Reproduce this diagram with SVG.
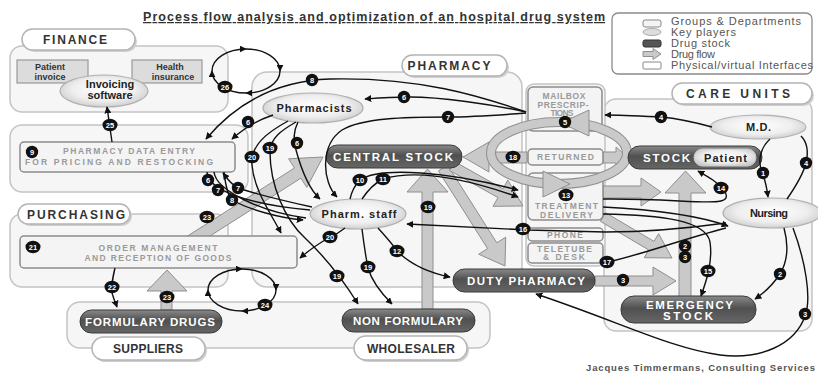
<svg xmlns="http://www.w3.org/2000/svg" width="818" height="374" viewBox="0 0 818 374">
<defs>
<style>
.grp{fill:#f6f6f6;stroke:#c4c4c4;stroke-width:1.5}
.pill{fill:#fff;stroke:#b4b4b4;stroke-width:1.5}
.psh{fill:#cfcfcf}
.pt{font-family:"Liberation Sans",Arial,sans-serif;font-weight:bold;font-size:12px;fill:#333;text-anchor:middle}
.stk{fill:url(#gs);stroke:#3a3a3a;stroke-width:1}
.stt{font-family:"Liberation Sans",Arial,sans-serif;font-weight:bold;font-size:11.5px;fill:#fff;text-anchor:middle}
.ifc{fill:#f4f4f4;stroke:#8c8c8c;stroke-width:1.5}
.it{font-family:"Liberation Sans",Arial,sans-serif;font-weight:bold;font-size:8.5px;fill:#9a9a9a;text-anchor:middle}
.kp{fill:url(#gk);stroke:#b0b0b0;stroke-width:1.2}
.kt{font-family:"Liberation Sans",Arial,sans-serif;font-weight:bold;font-size:11px;fill:#222;text-anchor:middle}
.fbox{fill:#dcdcdc;stroke:#999;stroke-width:1.2}
.ft{font-family:"Liberation Sans",Arial,sans-serif;font-weight:bold;font-size:9px;fill:#333;text-anchor:middle}
.fl{fill:#c9c9c9;stroke:#8f8f8f;stroke-width:1}
.ln{fill:none;stroke:#111;stroke-width:1.4}
.a{marker-end:url(#ah)}
.lp{marker-mid:url(#ah);marker-end:url(#ah)}
.bd{fill:#111}
.bt{font-family:"Liberation Sans",Arial,sans-serif;font-weight:bold;font-size:7.5px;fill:#fff;text-anchor:middle}
.lg{font-family:"Liberation Sans",Arial,sans-serif;font-size:11px;fill:#555}
</style>
<linearGradient id="gs" x1="0" y1="0" x2="0" y2="1">
<stop offset="0" stop-color="#8a8a8a"/><stop offset="0.45" stop-color="#505050"/><stop offset="1" stop-color="#666"/>
</linearGradient>
<radialGradient id="gk" cx="0.5" cy="0.45" r="0.6">
<stop offset="0" stop-color="#ffffff"/><stop offset="0.6" stop-color="#eeeeee"/><stop offset="1" stop-color="#c8c8c8"/>
</radialGradient>
<marker id="ah" viewBox="0 0 10 10" refX="9" refY="5" markerWidth="7" markerHeight="7" markerUnits="userSpaceOnUse" orient="auto">
<path d="M0,0 L10,5 L0,10 z" fill="#111"/>
</marker>
</defs>

<rect x="0" y="0" width="818" height="374" fill="#fff"/>

<text x="143" y="21" font-family="Liberation Sans, Arial, sans-serif" font-weight="bold" font-size="12.5" fill="#333" text-decoration="underline" textLength="462" lengthAdjust="spacing">Process flow analysis and optimization of an hospital drug system</text>

<g id="legend">
<rect x="612" y="13" width="200" height="61" rx="6" fill="#fff" stroke="#8a8a8a" stroke-width="1.3"/>
<rect x="643" y="20" width="18" height="7" rx="2" fill="#f4f4f4" stroke="#888"/>
<text class="lg" x="671" y="25" textLength="130" lengthAdjust="spacing">Groups &amp; Departments</text>
<ellipse cx="652" cy="32" rx="9" ry="3.5" fill="#ddd" stroke="#aaa"/>
<text class="lg" x="671" y="36" textLength="65" lengthAdjust="spacing">Key players</text>
<rect x="643" y="40" width="18" height="7" rx="2" fill="#555" stroke="#333"/>
<text class="lg" x="671" y="47" textLength="59" lengthAdjust="spacing">Drug stock</text>
<polygon class="fl" points="643,51.5 653,51.5 653,48.5 661,54 653,59.5 653,56.5 643,56.5"/>
<text class="lg" x="671" y="58" textLength="44" lengthAdjust="spacing">Drug flow</text>
<rect x="643" y="62" width="18" height="7" rx="1" fill="#fff" stroke="#888"/>
<text class="lg" x="671" y="69" textLength="142" lengthAdjust="spacing">Physical/virtual Interfaces</text>
</g>

<!-- group boxes -->
<g id="finance">
<rect class="grp" x="10" y="46" width="218" height="66" rx="12"/>
<rect class="psh" x="24" y="31" width="113" height="21" rx="10.5"/>
<rect class="pill" x="22" y="29" width="113" height="21" rx="10.5"/>
<text class="pt" x="75" y="44" textLength="64" lengthAdjust="spacing">FINANCE</text>
</g>
<g id="pharmacy">
<rect class="grp" x="252" y="72" width="270" height="215" rx="15"/>
<rect class="psh" x="404" y="57" width="105" height="21" rx="10.5"/>
<rect class="pill" x="402" y="55" width="105" height="21" rx="10.5"/>
<text class="pt" x="449" y="70" textLength="83" lengthAdjust="spacing">PHARMACY</text>
</g>
<g id="data-entry-group">
<rect class="grp" x="10" y="125" width="238" height="67" rx="12"/>
</g>
<g id="purchasing">
<rect class="grp" x="10" y="214" width="218" height="73" rx="12"/>
<rect class="psh" x="20" y="206" width="112" height="20" rx="10"/>
<rect class="pill" x="18" y="204" width="112" height="20" rx="10"/>
<text class="pt" x="76" y="218.5" textLength="98" lengthAdjust="spacing">PURCHASING</text>
</g>
<g id="suppliers-wholesaler">
<rect class="grp" x="67" y="302" width="423" height="46" rx="13"/>
</g>
<g id="care-units">
<rect class="grp" x="604" y="99" width="208" height="232" rx="12"/>
<rect class="psh" x="674" y="85" width="140" height="21" rx="10.5"/>
<rect class="pill" x="672" y="83" width="140" height="21" rx="10.5"/>
<text class="pt" x="738" y="98" textLength="104" lengthAdjust="spacing">CARE UNITS</text>
</g>
<g id="interfaces-column">
<rect class="grp" x="526" y="84" width="79" height="182" rx="8"/>
</g>

<!-- drug flows -->
<g id="drug-flows">
<polygon class="fl" points="186.2,251.1 300.9,178.2 306.8,187.4 323,157 288.6,158.8 294.5,168 179.8,240.9"/>
<polygon class="fl" points="161,310 161,291 147,291 167,270 187,291 172,291 172,310"/>
<polygon class="fl" points="422,309 422,192 407,192 427.5,169 448,192 433,192 433,309"/>
<polygon class="fl" points="438.4,170.9 487.6,248.6 478.7,254.2 505,266 505.7,237.2 496.8,242.8 447.6,165.1"/>
<polygon class="fl" points="449.5,170.4 498,197.6 493,206.3 523,206 507.8,180.1 502.9,188.8 454.5,161.6"/>
<polygon class="fl" points="527,152 489,152 489,142 463,157 489,172 489,163 527,163"/>
<polygon class="fl" points="603,152 616,152 616,147 628,157.5 616,168 616,163 603,163"/>
<polygon class="fl" points="603,186 641,186 641,178 661,192 641,206 641,198 603,198"/>
<polygon class="fl" points="600.4,221.3 648.8,250 644.2,257.7 672,258 658.6,233.7 654,241.4 605.6,212.7"/>
<polygon class="fl" points="595,276 653,276 653,267 676,281 653,295 653,286 595,286"/>
<polygon class="fl" points="679,297 679,193 665,193 685.5,171 706,193 691,193 691,297"/>
</g>

<!-- nodes -->
<g id="patient-invoice">
<rect class="fbox" x="17" y="60" width="71" height="23"/>
<text class="ft" x="50" y="70">Patient</text>
<text class="ft" x="50" y="80">invoice</text>
</g>
<g id="health-insurance">
<rect class="fbox" x="132" y="60" width="70" height="23"/>
<text class="ft" x="170" y="70">Health</text>
<text class="ft" x="173" y="80">insurance</text>
</g>
<g id="invoicing-software">
<ellipse class="kp" cx="104" cy="91" rx="44" ry="16"/>
<text class="kt" x="110" y="88" font-size="10">Invoicing</text>
<text class="kt" x="110" y="99" font-size="10">software</text>
</g>
<g id="pharmacy-data-entry">
<rect class="ifc" x="20" y="142" width="215" height="30" rx="4"/>
<text class="it" x="129" y="154" textLength="132" lengthAdjust="spacing">PHARMACY DATA ENTRY</text>
<text class="it" x="119" y="165" textLength="188" lengthAdjust="spacing">FOR PRICING AND RESTOCKING</text>
</g>
<g id="order-management">
<rect class="ifc" x="20" y="236" width="277" height="32" rx="4"/>
<text class="it" x="158" y="251" textLength="119" lengthAdjust="spacing">ORDER MANAGEMENT</text>
<text class="it" x="158" y="261" textLength="147" lengthAdjust="spacing">AND RECEPTION OF GOODS</text>
</g>
<g id="formulary-drugs">
<rect class="stk" x="80" y="310" width="142" height="23" rx="11.5"/>
<text class="stt" x="150" y="325.5" textLength="130" lengthAdjust="spacing">FORMULARY DRUGS</text>
</g>
<g id="suppliers">
<rect class="psh" x="94" y="339" width="113" height="23" rx="11.5"/>
<rect class="pill" x="92" y="337" width="113" height="23" rx="11.5"/>
<text class="pt" x="148" y="352.5" textLength="70" lengthAdjust="spacing">SUPPLIERS</text>
</g>
<g id="non-formulary">
<rect class="stk" x="342" y="309" width="133" height="23" rx="11.5"/>
<text class="stt" x="408" y="324.5" textLength="110" lengthAdjust="spacing">NON FORMULARY</text>
</g>
<g id="wholesaler">
<rect class="psh" x="356" y="338" width="113" height="24" rx="12"/>
<rect class="pill" x="354" y="336" width="113" height="24" rx="12"/>
<text class="pt" x="411" y="352.5" textLength="88" lengthAdjust="spacing">WHOLESALER</text>
</g>
<g id="pharmacists">
<ellipse class="kp" cx="313" cy="108" rx="50" ry="15"/>
<text class="kt" x="314" y="112" textLength="75" lengthAdjust="spacing">Pharmacists</text>
</g>
<g id="pharm-staff">
<ellipse class="kp" cx="358" cy="214" rx="48" ry="15"/>
<text class="kt" x="359" y="218" textLength="75" lengthAdjust="spacing">Pharm. staff</text>
</g>
<g id="central-stock">
<rect class="stk" x="326" y="145" width="136" height="23" rx="11.5"/>
<text class="stt" x="393" y="161" font-size="12" textLength="120" lengthAdjust="spacing">CENTRAL STOCK</text>
</g>
<g id="duty-pharmacy">
<rect class="stk" x="453" y="269" width="142" height="23" rx="11.5"/>
<text class="stt" x="526" y="285" textLength="118" lengthAdjust="spacing">DUTY PHARMACY</text>
</g>
<g id="mailbox">
<rect class="ifc" x="528" y="87" width="74" height="44" rx="5"/>
<text class="it" x="564" y="99" textLength="43" lengthAdjust="spacing">MAILBOX</text>
<text class="it" x="563" y="107.5" textLength="51" lengthAdjust="spacing">PRESCRIP-</text>
<text class="it" x="562" y="116" textLength="23" lengthAdjust="spacing">TIONS</text>
</g>
<g id="returned">
<rect class="ifc" x="528" y="149" width="75" height="16" rx="4"/>
<text class="it" x="565.5" y="160" textLength="57" lengthAdjust="spacing">RETURNED</text>
</g>
<g id="treatment-delivery">
<rect class="ifc" x="528" y="173" width="75" height="47" rx="5"/>
<text class="it" x="566.5" y="209" textLength="63" lengthAdjust="spacing">TREATMENT</text>
<text class="it" x="566.5" y="217.5" textLength="53" lengthAdjust="spacing">DELIVERY</text>
</g>
<g id="phone">
<rect class="ifc" x="528" y="228" width="75" height="13" rx="4"/>
<text class="it" x="565" y="238" textLength="36" lengthAdjust="spacing">PHONE</text>
</g>
<g id="teletube-desk">
<rect class="ifc" x="528" y="243" width="75" height="20" rx="4"/>
<text class="it" x="564.5" y="251.5" textLength="55" lengthAdjust="spacing">TELETUBE</text>
<text class="it" x="564" y="260" textLength="42" lengthAdjust="spacing">&amp; DESK</text>
</g>

<g id="return-cycle">
<ellipse cx="559" cy="153" rx="68" ry="31" fill="none" stroke="#8f8f8f" stroke-width="10"/>
<ellipse cx="559" cy="153" rx="68" ry="31" fill="none" stroke="#cacaca" stroke-width="8"/>
<polygon class="fl" points="561,123 589,110 589,136"/>
<polygon class="fl" points="570,184 543,171 543,197"/>
</g>

<g id="md">
<ellipse class="kp" cx="758" cy="127" rx="48" ry="12"/>
<text class="kt" x="758.5" y="131" textLength="25" lengthAdjust="spacing">M.D.</text>
</g>
<g id="stock-patient">
<rect class="stk" x="628" y="146" width="134" height="23" rx="11.5"/>
<text class="stt" x="666.5" y="162" textLength="47" lengthAdjust="spacing">STOCK</text>
<rect x="694" y="149" width="62" height="17" rx="8.5" fill="url(#gk)" stroke="#ccc"/>
<text class="kt" x="725.5" y="161.5" font-size="11.5" textLength="43" lengthAdjust="spacing">Patient</text>
</g>
<g id="nursing">
<ellipse class="kp" cx="772" cy="213" rx="49" ry="15"/>
<text class="kt" x="769" y="217" textLength="38" lengthAdjust="spacing">Nursing</text>
</g>
<g id="emergency-stock">
<rect class="stk" x="621" y="296" width="135" height="27" rx="13"/>
<text class="stt" x="689.5" y="308.5" textLength="87" lengthAdjust="spacing">EMERGENCY</text>
<text class="stt" x="688" y="320" textLength="50" lengthAdjust="spacing">STOCK</text>
</g>

<!-- connectors -->
<g id="connectors">
<path class="ln a" d="M112,142 L107,107"/>
<path class="ln lp" d="M212,71 A34,22 0 0 1 246,49 A34,22 0 0 1 280,71 A34,22 0 0 1 246,93 A34,22 0 0 1 212,71"/>
<path class="ln lp" d="M208,290 A34,21 0 0 1 242,269 A34,21 0 0 1 276,290 A34,21 0 0 1 242,311 A34,21 0 0 1 208,290"/>
<path class="ln a" d="M526,112 C480,96 420,77 330,79 C270,81 232,108 206,139"/>
<path class="ln a" d="M526,112 C490,104 440,97 410,97 C390,97 378,98 365,99"/>
<path class="ln a" d="M526,113 C500,115 470,117 448,117 C405,117 362,118 342,130 C320,145 322,182 337,197"/>
<path class="ln a" d="M298,122 C293,132 293,140 296,150 C302,172 310,190 320,199"/>
<path class="ln a" d="M273,115 C258,120 242,130 232,139"/>
<path class="ln a" d="M288,121 C268,132 250,145 252,165 C254,190 270,212 281,233"/>
<path class="ln a" d="M296,122 C282,130 270,138 270,152 C270,185 285,220 305,238 C322,254 340,275 358,304"/>
<path class="ln a" d="M362,229 C364,245 366,258 368,268 C372,282 382,294 392,304"/>
<path class="ln a" d="M345,228 C340,232 335,235 330,237 C318,244 308,251 300,258"/>
<path class="ln a" d="M378,228 C387,238 394,246 397,251 C412,266 430,273 450,277"/>
<path class="ln a" d="M350,199 C352,190 356,184 360,180 C380,166 450,172 518,190"/>
<path class="ln a" d="M362,199 C368,190 375,183 383,179 C420,168 470,180 518,197"/>
<path class="ln" d="M207,172 C207,190 250,205 310,210"/>
<path class="ln" d="M214,172 C216,190 260,212 306,218"/>
<path class="ln a" d="M312,207 C280,200 250,192 238,188 C232,185 228,180 223,173"/>
<path class="ln a" d="M224,172 C226,190 230,198 232,200 C250,210 280,218 303,220"/>
<path class="ln a" d="M726,223 C690,228 645,232 605,232 L528,230 C480,228 440,226 407,224"/>
<path class="ln a" d="M603,207 C660,210 700,216 728,226"/>
<path class="ln a" d="M603,199 C690,198 735,210 725,192 C718,182 707,176 698,171"/>
<path class="ln a" d="M603,214 C660,215 706,220 710,242 C713,262 706,282 701,296"/>
<path class="ln" d="M726,228 C680,240 640,255 608,262"/>
<path class="ln a" d="M784,228 C790,250 786,264 780,274 C772,286 764,293 755,299"/>
<path class="ln a" d="M793,228 C805,260 812,298 805,316 C795,345 760,360 720,355 C670,348 620,322 536,294"/>
<path class="ln a" d="M770,139 C758,150 758,165 763,175 C766,183 767,189 768,197"/>
<path class="ln" d="M787,199 C796,186 803,175 806,163 C809,150 806,141 801,136"/>
<path class="ln a" d="M712,127 C690,121 672,118 661,117 C640,116 620,115 605,115"/>
<path class="ln a" d="M115,268 C112,280 111,292 113,296 C114,300 116,304 117,307"/>
</g>

<!-- badges -->
<g id="badges">
<g><circle class="bd" cx="312" cy="80" r="6.2"/><text class="bt" x="312" y="82.7">8</text></g>
<g><circle class="bd" cx="404" cy="97" r="6.2"/><text class="bt" x="404" y="99.7">6</text></g>
<g><circle class="bd" cx="448" cy="117" r="6.2"/><text class="bt" x="448" y="119.7">7</text></g>
<g><circle class="bd" cx="661" cy="117" r="6.2"/><text class="bt" x="661" y="119.7">4</text></g>
<g><circle class="bd" cx="565" cy="122" r="6.2"/><text class="bt" x="565" y="124.7">5</text></g>
<g><circle class="bd" cx="248" cy="122" r="6.2"/><text class="bt" x="248" y="124.7">6</text></g>
<g><ellipse class="bd" cx="110" cy="125" rx="7.5" ry="6.2"/><text class="bt" x="110" y="127.7">25</text></g>
<g><ellipse class="bd" cx="225" cy="87" rx="7.5" ry="6.2"/><text class="bt" x="225" y="89.7">26</text></g>
<g><ellipse class="bd" cx="270" cy="148" rx="7.5" ry="6.2"/><text class="bt" x="270" y="150.7">19</text></g>
<g><circle class="bd" cx="297" cy="143" r="6.2"/><text class="bt" x="297" y="145.7">6</text></g>
<g><ellipse class="bd" cx="252" cy="157" rx="7.5" ry="6.2"/><text class="bt" x="252" y="159.7">20</text></g>
<g><circle class="bd" cx="32" cy="152" r="6.2"/><text class="bt" x="32" y="154.7">9</text></g>
<g><ellipse class="bd" cx="513" cy="157" rx="7.5" ry="6.2"/><text class="bt" x="513" y="159.7">18</text></g>
<g><circle class="bd" cx="763" cy="173" r="6.2"/><text class="bt" x="763" y="175.7">1</text></g>
<g><circle class="bd" cx="806" cy="163" r="6.2"/><text class="bt" x="806" y="165.7">4</text></g>
<g><ellipse class="bd" cx="360" cy="180" rx="7.5" ry="6.2"/><text class="bt" x="360" y="182.7">10</text></g>
<g><ellipse class="bd" cx="383" cy="179" rx="7.5" ry="6.2"/><text class="bt" x="383" y="181.7">11</text></g>
<g><ellipse class="bd" cx="721" cy="188" rx="7.5" ry="6.2"/><text class="bt" x="721" y="190.7">14</text></g>
<g><ellipse class="bd" cx="566" cy="195" rx="7.5" ry="6.2"/><text class="bt" x="566" y="197.7">13</text></g>
<g><circle class="bd" cx="208" cy="180" r="6.2"/><text class="bt" x="208" y="182.7">6</text></g>
<g><circle class="bd" cx="218" cy="190" r="6.2"/><text class="bt" x="218" y="192.7">7</text></g>
<g><circle class="bd" cx="238" cy="188" r="6.2"/><text class="bt" x="238" y="190.7">7</text></g>
<g><circle class="bd" cx="232" cy="200" r="6.2"/><text class="bt" x="232" y="202.7">8</text></g>
<g><ellipse class="bd" cx="207" cy="217" rx="7.5" ry="6.2"/><text class="bt" x="207" y="219.7">23</text></g>
<g><ellipse class="bd" cx="428" cy="207" rx="7.5" ry="6.2"/><text class="bt" x="428" y="209.7">19</text></g>
<g><ellipse class="bd" cx="523" cy="229" rx="7.5" ry="6.2"/><text class="bt" x="523" y="231.7">16</text></g>
<g><ellipse class="bd" cx="330" cy="237" rx="7.5" ry="6.2"/><text class="bt" x="330" y="239.7">20</text></g>
<g><circle class="bd" cx="685" cy="246" r="6.2"/><text class="bt" x="685" y="248.7">2</text></g>
<g><circle class="bd" cx="685" cy="257" r="6.2"/><text class="bt" x="685" y="259.7">3</text></g>
<g><ellipse class="bd" cx="33" cy="247" rx="7.5" ry="6.2"/><text class="bt" x="33" y="249.7">21</text></g>
<g><ellipse class="bd" cx="397" cy="251" rx="7.5" ry="6.2"/><text class="bt" x="397" y="253.7">12</text></g>
<g><ellipse class="bd" cx="607" cy="262" rx="7.5" ry="6.2"/><text class="bt" x="607" y="264.7">17</text></g>
<g><ellipse class="bd" cx="368" cy="267" rx="7.5" ry="6.2"/><text class="bt" x="368" y="269.7">19</text></g>
<g><ellipse class="bd" cx="708" cy="271" rx="7.5" ry="6.2"/><text class="bt" x="708" y="273.7">15</text></g>
<g><circle class="bd" cx="780" cy="274" r="6.2"/><text class="bt" x="780" y="276.7">2</text></g>
<g><ellipse class="bd" cx="337" cy="276" rx="7.5" ry="6.2"/><text class="bt" x="337" y="278.7">19</text></g>
<g><circle class="bd" cx="623" cy="280" r="6.2"/><text class="bt" x="623" y="282.7">3</text></g>
<g><ellipse class="bd" cx="112" cy="287" rx="7.5" ry="6.2"/><text class="bt" x="112" y="289.7">22</text></g>
<g><ellipse class="bd" cx="167" cy="297" rx="7.5" ry="6.2"/><text class="bt" x="167" y="299.7">23</text></g>
<g><ellipse class="bd" cx="265" cy="305" rx="7.5" ry="6.2"/><text class="bt" x="265" y="307.7">24</text></g>
<g><circle class="bd" cx="805" cy="314" r="6.2"/><text class="bt" x="805" y="316.7">3</text></g>
</g>

<text x="586" y="371" font-family="Liberation Sans, Arial, sans-serif" font-weight="bold" font-size="9.5" fill="#555" textLength="229" lengthAdjust="spacing">Jacques Timmermans, Consulting Services</text>
</svg>
